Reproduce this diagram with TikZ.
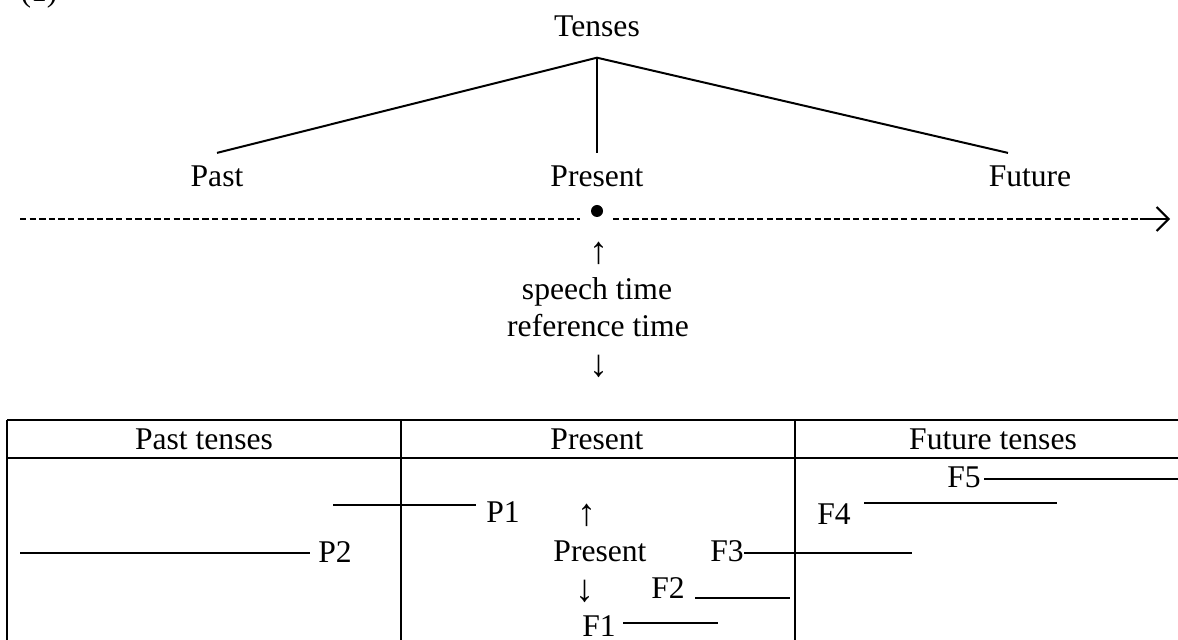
\documentclass[tikz,border=0pt]{standalone}
\usepackage{fontspec}
\setmainfont{Liberation Serif}
\usetikzlibrary{arrows.meta}
\newcommand\tensesize{\fontsize{15.8}{19}\selectfont}
\newcommand\arrowsize{\fontsize{19}{20}\selectfont}

\begin{document}
\begin{tikzpicture}[x=0.5pt, y=-0.5pt,
  every node/.style={inner sep=0pt, anchor=base, font=\tensesize},
  pointer/.style={font=\arrowsize},
  branch/.style={line width=1pt},
  timeline/.style={line width=1.3pt, dash pattern=on 3.2pt off 1.6pt},
  grid/.style={line width=0.9pt},
  span/.style={line width=1pt}]
  \useasboundingbox (0,0) rectangle (1178,640);

  % tree of tenses
  \node (num) at (39,2) {(1)};
  \node (tenses) at (597,37) {Tenses};
  \node (past) at (217,187) {Past};
  \node (present) at (597,187) {Present};
  \node (future) at (1030,187) {Future};
  \coordinate (apex) at ([yshift=-10pt]tenses.south);
  \draw[branch] (apex) -- ([yshift=6.5pt]past.north);
  \draw[branch] (apex) -- ([yshift=6.5pt]present.north);
  \draw[branch] (apex) -- ([xshift=-11pt,yshift=6.5pt]future.north);

  % time line
  \coordinate (lineL) at (20,219);
  \coordinate (gapL) at (580,219);
  \node[circle, fill, minimum size=6pt, anchor=center] (now) at (597,211) {};
  \coordinate (gapR) at (613,219);
  \coordinate (lineR) at (1140,219);
  \coordinate (tip) at (1170,219);
  \draw[timeline] (lineL) -- (gapL);
  \draw[timeline] (gapR) -- (lineR);
  \draw[line width=1pt, -{Straight Barb[length=6pt, width=12pt]}] (lineR) -- (tip);

  \node[pointer] (up) at (599,264) {↑};
  \node (speech) at (597,300) {speech time};
  \node (reference) at (598,337) {reference time};
  \node[pointer] (down) at (599,377) {↓};

  % table
  \draw[grid] (7,420) -- (1178,420);
  \draw[grid] (7,458) -- (1178,458);
  \draw[grid] (7,420) -- (7,645);
  \draw[grid] (401,420) -- (401,645);
  \draw[grid] (795,420) -- (795,645);

  \node (pastH) at (204,450) {Past tenses};
  \node (presentH) at (597,450) {Present};
  \node (futureH) at (993,450) {Future tenses};

  \node (P1) at (503,523) {P1};
  \node (P2) at (335,563) {P2};
  \node[pointer] (nowup) at (587,526) {↑};
  \node (nowtext) at (600,562) {Present};
  \node[pointer] (nowdown) at (585,602) {↓};
  \node (F1) at (599,637) {F1};
  \node (F2) at (668,599) {F2};
  \node (F3) at (727,562) {F3};
  \node (F4) at (834,525) {F4};
  \node (F5) at (964,488) {F5};

  \coordinate (p1from) at (333,505);
  \coordinate (p2from) at (20,553);
  \coordinate (f1to) at (718,623);
  \coordinate (f2to) at (790,598);
  \coordinate (f3to) at (912,553);
  \coordinate (f4to) at (1057,503);
  \coordinate (f5to) at (1178,479);
  \draw[span] (p1from) -- ([xshift=-5pt]P1.west |- p1from);
  \draw[span] (p2from) -- ([xshift=-4pt]P2.west |- p2from);
  \draw[span] ([xshift=3.5pt]F1.east |- f1to) -- (f1to);
  \draw[span] ([xshift=5pt]F2.east |- f2to) -- (f2to);
  \draw[span] (F3.east |- f3to) -- (f3to);
  \draw[span] ([xshift=6.5pt]F4.east |- f4to) -- (f4to);
  \draw[span] ([xshift=1.5pt]F5.east |- f5to) -- (f5to);
\end{tikzpicture}
\end{document}
